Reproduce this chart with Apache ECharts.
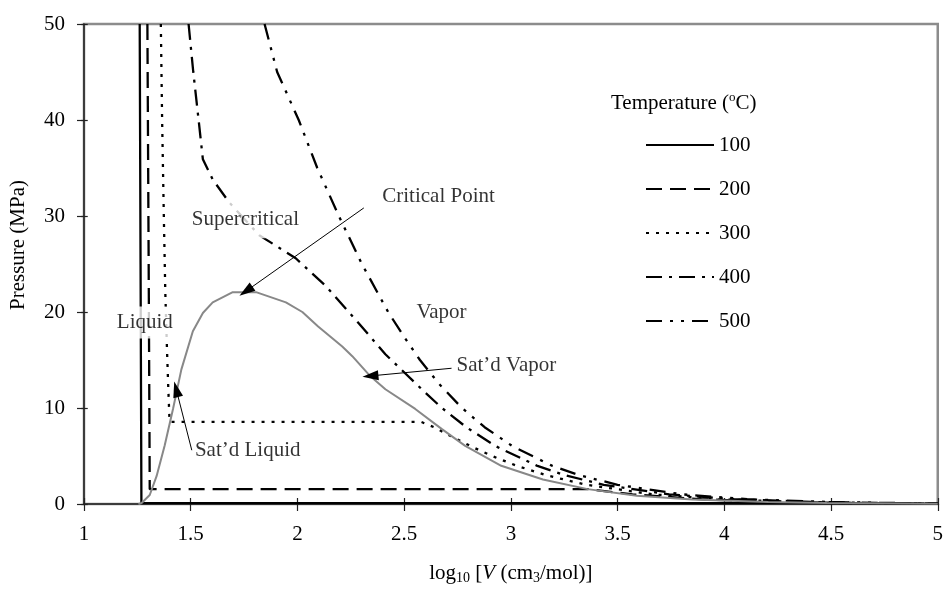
<!DOCTYPE html>
<html><head><meta charset="utf-8">
<script src="https://cdn.jsdelivr.net/npm/echarts@6/dist/echarts.min.js"></script>
<style>html,body{margin:0;padding:0;background:#fff}#c{width:946px;height:590px}</style>
</head><body><div id="c"></div>
<script>
// ---- data (log10 V in cm3/mol, pressure in MPa) ----
const domeX = [1.255, 1.27, 1.308, 1.34, 1.378, 1.417, 1.456, 1.51, 1.557, 1.603, 1.697, 1.806, 1.946, 2.023, 2.097, 2.21, 2.257, 2.342, 2.412, 2.552, 2.677, 2.786, 2.955, 3.15, 3.36, 3.59, 3.85, 4.206, 4.48, 5.0];
const domeY = [0, 0.1, 0.94, 2.9, 6.1, 9.9, 14.0, 18.0, 19.9, 21.0, 22.07, 22.07, 21.0, 20.0, 18.5, 16.4, 15.4, 13.3, 11.95, 9.9, 7.8, 6.06, 3.98, 2.55, 1.55, 0.86, 0.476, 0.2, 0.1, 0.025];

const t100X = [1.261, 1.265, 1.269, 4.48, 4.78, 5.0];
const t100Y = [50, 25, 0.1, 0.1, 0.05, 0.031];

const t200X = [1.297, 1.303, 1.308, 3.36, 3.57, 3.884, 4.289, 4.593, 5.0];
const t200Y = [50, 25, 1.55, 1.55, 1.0, 0.5, 0.2, 0.1, 0.039];

const t300X = [1.36, 1.366, 1.374, 1.381, 1.389, 1.395, 1.401, 2.58, 2.64, 2.725, 2.814, 2.912, 3.025, 3.165, 3.354, 3.667, 3.974, 4.375, 4.677, 5.0];
const t300Y = [50, 40, 30, 22, 16, 12, 8.55, 8.55, 8, 7, 6, 5, 4, 3, 2, 1, 0.5, 0.2, 0.1, 0.048];

const t400X = [1.49, 1.512, 1.537, 1.557, 1.603, 1.681, 1.821, 1.992, 2.133, 2.288, 2.412, 2.599, 2.677, 2.791, 2.931, 3.121, 3.253, 3.435, 3.742, 4.046, 4.446, 4.747, 5.0];
const t400Y = [50, 45, 40, 35.9, 33.8, 31.4, 28.0, 25.6, 22.7, 18.8, 15.6, 11.6, 10, 8, 6, 4, 3, 2, 1, 0.5, 0.2, 0.1, 0.055];

const t500X = [1.846, 1.905, 2.006, 2.093, 2.194, 2.302, 2.425, 2.497, 2.574, 2.664, 2.771, 2.877, 3.009, 3.192, 3.321, 3.5, 3.805, 4.107, 4.506, 4.808, 5.0];
const t500Y = [50, 45, 40, 35, 30, 25, 20, 17.5, 15, 12.5, 10, 8, 6, 4, 3, 2, 1, 0.5, 0.2, 0.1, 0.064];

const tempNames = ['100', '200', '300', '400', '500'];

const labelTexts = ['Liquid', 'Supercritical', 'Critical Point', 'Vapor', 'Sat\u2019d Vapor', 'Sat\u2019d Liquid'];
const labelX = [1.285, 1.756, 2.661, 2.675, 2.979, 1.767];
const labelY = [18.9, 29.6, 32.0, 20.0, 14.38, 5.54];

const arrowFrom = [[2.311, 30.84], [2.722, 14.14], [1.505, 5.6]];
const arrowTo   = [[1.759, 22.17], [2.342, 13.34], [1.432, 11.95]];

// ---- build ----
const zip = (xs, ys) => xs.map((x, i) => [x, ys[i]]);
const FONT = 'Liberation Serif';

const dashes = ['solid', [16, 8], [3, 7], [16, 7, 3, 7], [16, 8, 3, 8, 3, 8]];
const tData = [zip(t100X, t100Y), zip(t200X, t200Y), zip(t300X, t300Y), zip(t400X, t400Y), zip(t500X, t500Y)];

const series = [];
series.push({
  name: 'dome', type: 'line', data: zip(domeX, domeY), symbol: 'none',
  lineStyle: { color: '#888888', width: 2 }, z: 3, silent: true,
  markLine: {
    silent: true, animation: false,
    symbol: ['none', 'triangle'], symbolSize: [10, 16],
    label: { show: false },
    lineStyle: { color: '#000', width: 1, type: 'solid' },
    data: arrowFrom.map((f, i) => [{ coord: f }, { coord: arrowTo[i] }])
  }
});
tempNames.forEach((n, i) => {
  series.push({
    name: n, type: 'line', data: tData[i], symbol: 'none',
    lineStyle: { color: '#000', width: 2.3, type: dashes[i], cap: 'butt' },
    itemStyle: { color: '#000' }, z: 2, silent: true
  });
});
const labelSeries = {
  name: 'labels', type: 'scatter', symbolSize: 1, z: 10, silent: true,
  itemStyle: { color: 'rgba(0,0,0,0)' },
  data: labelTexts.map((t, i) => ({ value: [labelX[i], labelY[i]], name: t })),
  label: {
    show: true, position: 'inside', formatter: p => p.name,
    fontFamily: FONT, fontSize: 21, color: '#000'
  }
};
// white boxes behind Liquid and Supercritical
labelSeries.data[0].label = { backgroundColor: '#fff', padding: [3, 3, 8, 3] };
labelSeries.data[1].label = { backgroundColor: '#fff', padding: [8, 3, 8, 3] };
series.push(labelSeries);

const chart = echarts.init(document.getElementById('c'), null, { renderer: 'canvas' });
const GW = 857, GH = 481;
chart.setOption({
  animation: false,
  backgroundColor: '#fff',
  textStyle: { fontFamily: FONT },
  grid: { left: 84, right: 5, top: 24, bottom: 85, show: true, borderColor: '#8c8c8c', borderWidth: 2.5 },
  legend: {
    data: tempNames, orient: 'vertical', left: 645, top: 134, padding: 0,
    itemWidth: 68, itemHeight: 14, itemGap: 22, selectedMode: false,
    itemStyle: { opacity: 0 },
    textStyle: { fontFamily: FONT, fontSize: 21, color: '#000', lineHeight: 22 }
  },
  xAxis: [{
    type: 'value', min: 1, max: 5, interval: 0.5,
    axisLine: { show: true, onZero: false, lineStyle: { color: '#222', width: 1.5 } },
    axisTick: { show: true, inside: false, length: 7, lineStyle: { color: '#222', width: 1.2 } },
    axisLabel: { fontFamily: FONT, fontSize: 21, color: '#000', margin: 20 },
    splitLine: { show: false },
    name: '{n|log}{s|10}{n| [}{i|V}{n| (cm}{s|3}{n|/mol)]}',
    nameLocation: 'middle', nameGap: 57,
    nameTextStyle: {
      rich: {
        n: { fontFamily: FONT, fontSize: 21, color: '#000' },
        i: { fontFamily: FONT, fontSize: 21, color: '#000', fontStyle: 'italic' },
        s: { fontFamily: FONT, fontSize: 14, color: '#000', padding: [10, 0, 0, 0] }
      }
    }
  }, {
    type: 'value', min: 1, max: 5, interval: 0.5, position: 'top', offset: -GH,
    axisLine: { show: false }, axisLabel: { show: false }, splitLine: { show: false },
    axisTick: { show: true, inside: false, length: 7, lineStyle: { color: '#222', width: 1.2 } }
  }],
  yAxis: [{
    type: 'value', min: 0, max: 50, interval: 10,
    axisLine: { show: true, onZero: false, lineStyle: { color: '#222', width: 1.5 } },
    axisTick: { show: true, inside: false, length: 7, lineStyle: { color: '#222', width: 1.2 } },
    axisLabel: { fontFamily: FONT, fontSize: 21, color: '#000', margin: 19 },
    splitLine: { show: false }
  }, {
    type: 'value', min: 0, max: 50, interval: 10, position: 'right', offset: -GW,
    axisLine: { show: false }, axisLabel: { show: false }, splitLine: { show: false },
    axisTick: { show: true, inside: false, length: 7, lineStyle: { color: '#222', width: 1.2 } }
  }],
  graphic: [{
    type: 'text', x: 18, y: 245, rotation: Math.PI / 2,
    style: { text: 'Pressure (MPa)', fontFamily: FONT, fontSize: 21, fill: '#000', align: 'center', verticalAlign: 'middle' }
  }, {
    type: 'text', x: 611, y: 103,
    style: {
      text: '{n|Temperature (}{p|o}{n|C)}', verticalAlign: 'middle',
      rich: {
        n: { fontFamily: FONT, fontSize: 21, fill: '#000' },
        p: { fontFamily: FONT, fontSize: 13, fill: '#000', padding: [0, 0, 10, 0] }
      }
    }
  }],
  series: series
});
</script>
</body></html>
